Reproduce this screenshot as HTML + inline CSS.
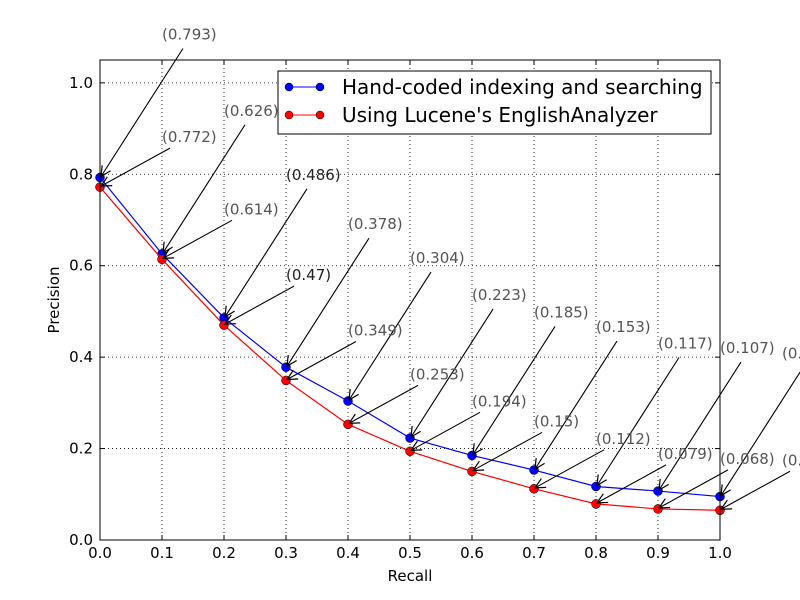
<!DOCTYPE html>
<html><head><meta charset="utf-8"><style>
body{margin:0;background:#fff}
svg{display:block;font-family:"DejaVu Sans","Liberation Sans",sans-serif}
</style></head><body>
<svg id="chart" width="800" height="600" viewBox="0 0 800 600" overflow="hidden">
<defs>
<marker id="ah" viewBox="0 0 12 12" refX="11" refY="6" markerWidth="12" markerHeight="12" markerUnits="userSpaceOnUse" orient="auto"><path d="M1,1 L11,6 L1,11" fill="none" stroke="#000" stroke-width="1.2"/></marker>
</defs>
<rect x="0" y="0" width="800" height="600" fill="#fff"/>
<g id="grid"></g>
<g id="series"></g>
<g id="annot"></g>
<rect x="100" y="60" width="620" height="480" fill="none" stroke="#000" stroke-width="1"/>
<g id="ticks"></g>
<text x="410" y="581" font-size="15" text-anchor="middle">Recall</text>
<text transform="translate(59,300) rotate(-90)" font-size="15" text-anchor="middle">Precision</text>
<g>
<rect x="278" y="71" width="433" height="63" fill="#fff" stroke="#000" stroke-width="1"/>
<line x1="288" y1="87" x2="321" y2="87" stroke="#0000ff" stroke-width="1"/>
<circle cx="289" cy="87" r="4" fill="#0000ff" stroke="#000" stroke-width="0.5"/><circle cx="320" cy="87" r="4" fill="#0000ff" stroke="#000" stroke-width="0.5"/>
<text x="342" y="94" font-size="20">Hand-coded indexing and searching</text>
<line x1="288" y1="115" x2="321" y2="115" stroke="#ff0000" stroke-width="1"/>
<circle cx="289" cy="115" r="4" fill="#ff0000" stroke="#000" stroke-width="0.5"/><circle cx="320" cy="115" r="4" fill="#ff0000" stroke="#000" stroke-width="0.5"/>
<text x="342" y="122" font-size="20">Using Lucene's EnglishAnalyzer</text>
</g>
</svg>
<script>
const recall = [0,0.1,0.2,0.3,0.4,0.5,0.6,0.7,0.8,0.9,1.0];
const handCoded = [0.793,0.626,0.486,0.378,0.304,0.223,0.185,0.153,0.117,0.107,0.095];
const lucene = [0.772,0.614,0.47,0.349,0.253,0.194,0.15,0.112,0.079,0.068,0.065];
const xTicks = ["0.0","0.1","0.2","0.3","0.4","0.5","0.6","0.7","0.8","0.9","1.0"];
const yTicks = [0,0.2,0.4,0.6,0.8,1.0];
const NS="http://www.w3.org/2000/svg";
const X=v=>100+v*620;
const Y=v=>540-v*480/1.05;
function mk(tag,attrs,parent){const e=document.createElementNS(NS,tag);for(const k in attrs)e.setAttribute(k,attrs[k]);parent.appendChild(e);return e;}
const grid=document.getElementById('grid'),ticks=document.getElementById('ticks'),series=document.getElementById('series'),annot=document.getElementById('annot');
xTicks.forEach((t,i)=>{const x=X(parseFloat(t));
 const g=mk('line',{x1:x,y1:60,x2:x,y2:540,stroke:'#000','stroke-dasharray':'1,3','stroke-width':0.8},grid);
 
 
 mk('line',{x1:x,y1:540,x2:x,y2:535,stroke:'#000'},ticks);
 mk('line',{x1:x,y1:60,x2:x,y2:65,stroke:'#000'},ticks);
 const tx=mk('text',{x:x,y:558,'font-size':15,'text-anchor':'middle'},ticks);tx.textContent=t;
 
 
});
yTicks.forEach(v=>{const y=Y(v);
 const g=mk('line',{x1:100,y1:y,x2:720,y2:y,stroke:'#000','stroke-dasharray':'1,3','stroke-width':0.8},grid);
 
 
 mk('line',{x1:100,y1:y,x2:105,y2:y,stroke:'#000'},ticks);
 mk('line',{x1:720,y1:y,x2:715,y2:y,stroke:'#000'},ticks);
 const tx=mk('text',{x:93,y:y+5,'font-size':15,'text-anchor':'end'},ticks);tx.textContent=v.toFixed(1);
 
 
});
function drawSeries(vals,color,name){
 const pts=vals.map((v,i)=>X(recall[i])+','+Y(v)).join(' ');
 const pl=mk('polyline',{points:pts,fill:'none',stroke:color,'stroke-width':1.2},series);
 
 
 vals.forEach((v,i)=>{const c=mk('circle',{cx:X(recall[i]),cy:Y(v),r:4.5,fill:color,stroke:'#000','stroke-width':0.5},series);
  
  });
}
drawSeries(handCoded,'#0000ff','hand-coded');
drawSeries(lucene,'#ff0000','lucene');
function drawAnnot(vals,dy,tailDx,tailDy,name){
 vals.forEach((v,i)=>{const px=X(recall[i]),py=Y(v);
  const dark=(i===2);
  mk('line',{x1:px+tailDx,y1:py+tailDy,x2:px+1,y2:py-1,stroke:'#000','stroke-width':1.1,'marker-end':'url(#ah)'},annot);
  const t=mk('text',{x:px+62,y:py+dy+6,'font-size':15,fill:dark?'#222':'#555'},annot);
  t.textContent='('+v+')';
  
  
 });
}
drawAnnot(handCoded,-144,83,-129,'hand-coded');
drawAnnot(lucene,-51,70,-39,'lucene');
</script>
</body></html>
